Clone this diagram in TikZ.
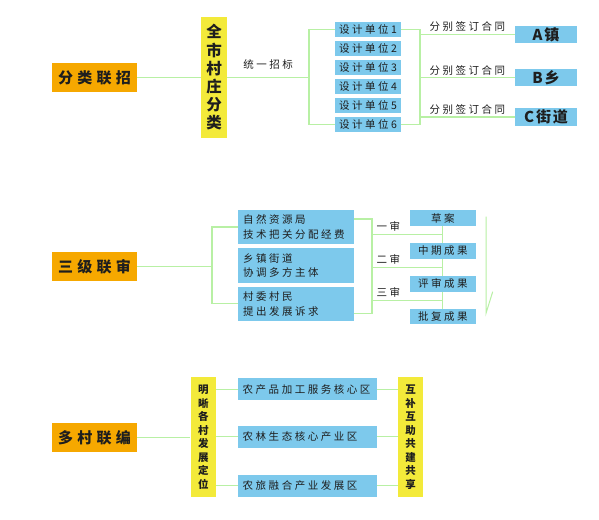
\documentclass[tikz,border=0pt]{standalone}
\usepackage{fontspec}
\setmainfont{Noto Sans CJK SC}
\newfontfamily\wider[LetterSpace=28]{Noto Sans CJK SC}
\newfontfamily\wide[LetterSpace=24]{Noto Sans CJK SC}
\newfontfamily\snug[LetterSpace=12]{Noto Sans CJK SC}
\usetikzlibrary{positioning,calc}
\definecolor{amber}{RGB}{246,168,0}
\definecolor{lemon}{RGB}{243,234,58}
\definecolor{sky}{RGB}{125,201,236}
\definecolor{leaf}{RGB}{184,240,164}
\definecolor{ink}{RGB}{30,30,30}

\begin{document}
\begin{tikzpicture}[x=1pt,y=-1pt,
    head/.style={fill=amber,minimum width=85pt,minimum height=29pt,inner sep=0pt,text=ink,font=\wider\bfseries\fontsize{15}{17}\selectfont},
    tall/.style={fill=lemon,inner sep=0pt,minimum width=26pt,align=center,text=ink},
    unit/.style={fill=sky,minimum width=66pt,minimum height=14.6pt,inner sep=0pt,text=ink,font=\wide\fontsize{10.5}{12}\selectfont},
    town/.style={fill=sky,minimum width=62pt,minimum height=17.5pt,inner sep=0pt,text=ink,font=\snug\bfseries\fontsize{15}{17}\selectfont},
    dept/.style={fill=sky,text width=106pt,inner xsep=5pt,inner ysep=0pt,minimum height=34.5pt,align=left,text=ink,font=\wide\fontsize{10.5}{14.5}\selectfont},
    stage/.style={fill=sky,minimum width=65.7pt,minimum height=15.5pt,inner sep=0pt,text=ink,font=\wide\fontsize{10.5}{12}\selectfont},
    zone/.style={fill=sky,text width=129pt,inner xsep=5pt,inner ysep=0pt,minimum height=21.7pt,align=left,text=ink,font=\wide\fontsize{10.5}{12}\selectfont},
    tag/.style={text=ink,inner sep=2pt,font=\wide\fontsize{10.5}{12}\selectfont},
    link/.style={draw=leaf,line width=1.3pt}]
  \fill[white] (0,0) rectangle (599,519);
  \useasboundingbox (0,0) rectangle (599,519);

  \node[head] (zhao) at (94.5,77.5) {分类联招};
  \node[tall,minimum height=121pt,font=\bfseries\fontsize{15.5}{18.2}\selectfont] (quan) at (214,77.5) {全\\市\\村\\庄\\分\\类};
  \node[unit] (u1) at (368,29.3) {设计单位1};
  \foreach \i [remember=\i as \j (initially 1)] in {2,...,6}
    \node[unit,below=4pt of u\j] (u\i) {设计单位\i};
  \node[town] (ta) at (546,34.5) {A镇};
  \node[town] (tb) at (546,77.7) {B乡};
  \node[town] (tc) at (546,117) {C街道};
  \coordinate (lk) at (309,77.5);
  \coordinate (rk) at (420,77.5);
  \draw[link] (zhao) -- (quan);
  \draw[link] (quan.east |- lk) -- (lk) node[tag,midway,above=6pt] {统一招标};
  \draw[link] (u1.west) -| (lk) |- (u6.west);
  \draw[link] (u1.east) -| (rk) |- (u6.east);
  \foreach \t in {ta,tb,tc}
    \draw[link] (rk |- \t) -- (\t) node[tag,midway,above] {分别签订合同};

  \node[head] (shen) at (94.5,266.7) {三级联审};
  \node[dept] (d1) at (296,227) {自然资源局\\技术把关分配经费};
  \node[dept,below=3.5pt of d1] (d2) {乡镇街道\\协调多方主体};
  \node[dept,below=3.5pt of d2] (d3) {村委村民\\提出发展诉求};
  \node[stage] (s1) at (442.8,218) {草案};
  \node[stage,below=17pt of s1] (s2) {中期成果};
  \node[stage,below=17pt of s2] (s3) {评审成果};
  \node[stage,below=17pt of s3] (s4) {批复成果};
  \coordinate (ml) at (212,266.7);
  \coordinate (mr) at (372,266.7);
  \coordinate (m1) at ($(s1.south)!.5!(s2.north)$);
  \coordinate (m2) at ($(s2.south)!.5!(s3.north)$);
  \coordinate (m3) at ($(s3.south)!.5!(s4.north)$);
  \draw[link] (shen) -- (ml);
  \draw[link] (d1.west) -| (ml) |- (d3.west);
  \draw[link] ($(d1.north east)!.27!(d1.south east)$) -| (mr) |- ($(d3.north east)!.78!(d3.south east)$);
  \draw[link] (s1) -- (s2);
  \draw[link] (s2) -- (s3);
  \draw[link] (s3) -- (s4);
  \foreach \m/\n in {m1/一审,m2/二审,m3/三审}
    \draw[link] (mr |- \m) -- (\m) node[tag,pos=.23,above] {\n};
  \coordinate (g1) at (486,216.7);
  \coordinate (g2) at (486,313.3);
  \draw[link,line width=1pt] (g1) -- (g2) -- ++(6.7,-21.6);

  \node[head] (bian) at (94.5,437.5) {多村联编};
  \node[tall,minimum width=25.3pt,minimum height=120.6pt,font=\bfseries\fontsize{10.5}{13.5}\selectfont] (ding) at (203.3,437) {明\\晰\\各\\村\\发\\展\\定\\位};
  \node[zone] (z1) at (307.2,389.2) {农产品加工服务核心区};
  \node[zone] (z2) at (307.2,436.8) {农林生态核心产业区};
  \node[zone] (z3) at (307.2,485.8) {农旅融合产业发展区};
  \node[tall,minimum width=25.6pt,minimum height=120.6pt,font=\bfseries\fontsize{10.5}{13.5}\selectfont] (gong) at (410.5,437) {互\\补\\互\\助\\共\\建\\共\\享};
  \draw[link] (bian) -- (ding.west |- bian);
  \foreach \z in {z1,z2,z3}{
    \draw[link] (ding.east |- \z) -- (\z);
    \draw[link] (\z) -- (gong.west |- \z);
  }
\end{tikzpicture}
\end{document}
